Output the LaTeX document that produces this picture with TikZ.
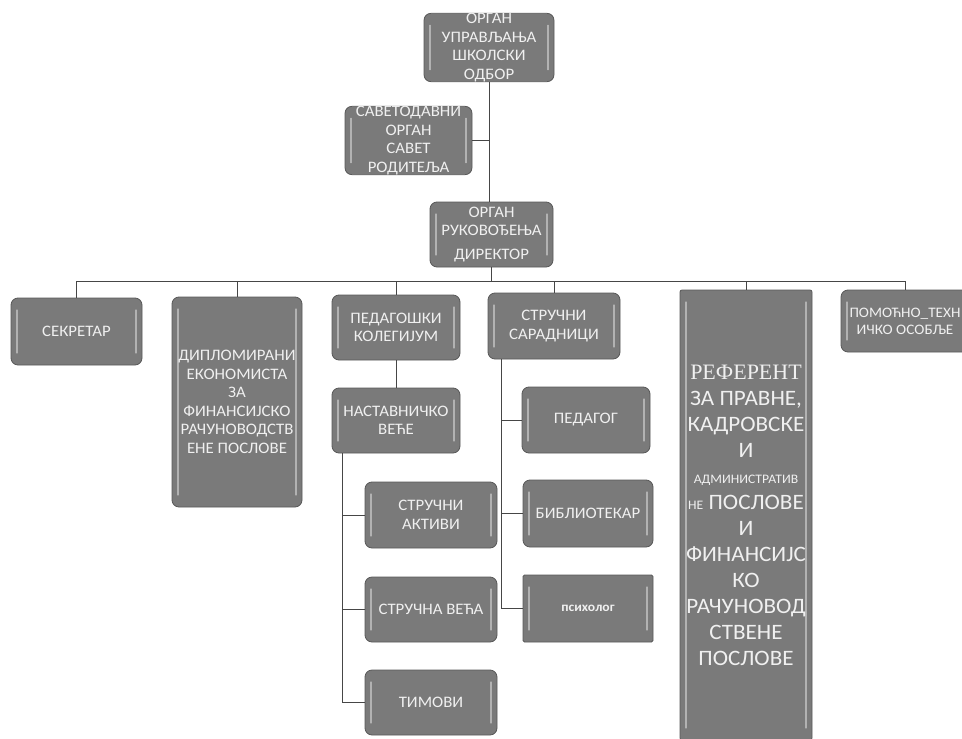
\documentclass[tikz,border=0pt]{standalone}
\usepackage{fontspec}
\setmainfont{Carlito}
\newfontfamily\boxfont[FakeStretch=1.05]{Carlito}
\newfontfamily\serifbox{Liberation Serif}
\definecolor{boxgray}{RGB}{122,122,122}
\definecolor{boxedge}{RGB}{88,88,88}
\definecolor{hilite}{RGB}{178,178,178}
\definecolor{linegray}{RGB}{70,70,70}
\definecolor{boxtext}{RGB}{240,240,240}
\begin{document}
\begin{tikzpicture}[x=1pt,y=-1pt,
  box/.style={rounded corners=7pt, fill=boxgray, draw=boxedge, line width=0.8pt,
    text=boxtext, align=center, inner sep=0pt,
    font=\boxfont\fontsize{16}{18.5}\selectfont,
    path picture={
      \draw[hilite, line width=1.2pt, line cap=round]
        ([xshift=6pt,yshift=-12pt]path picture bounding box.north west) --
        ([xshift=6pt,yshift=12pt]path picture bounding box.south west);
      \draw[hilite, line width=1.2pt, line cap=round]
        ([xshift=-6pt,yshift=-12pt]path picture bounding box.north east) --
        ([xshift=-6pt,yshift=12pt]path picture bounding box.south east);
    }},
  conn/.style={draw=linegray, line width=0.7pt}]
\useasboundingbox (0,0) rectangle (962,739);
\clip (0,0) rectangle (962,739);
\fill[white] (0,0) rectangle (962,739);

% top column
\node[box, minimum width=130pt, minimum height=65pt] (odbor) at (489,47.5)
  {ОРГАН\\УПРАВЉАЊА\\ШКОЛСКИ\\ОДБОР};
\node[box, minimum width=127pt, minimum height=65pt] (savet) at (408.5,140.5)
  {САВЕТОДАВНИ\\ОРГАН\\САВЕТ\\РОДИТЕЉА};
\node[box, minimum width=123pt, minimum height=65pt] (direktor) at (491.5,234.5)
  {ОРГАН\\РУКОВОЂЕЊА\\[5pt]ДИРЕКТОР};

% second row
\node[box, minimum width=131pt, minimum height=67pt] (sekretar) at (76.5,331.5)
  {СЕКРЕТАР};
\node[box, minimum width=130pt, minimum height=210pt] (diplom) at (237,402)
  {ДИПЛОМИРАНИ\\ЕКОНОМИСТА\\ЗА\\ФИНАНСИЈСКО\\РАЧУНОВОДСТВ\\ЕНЕ ПОСЛОВЕ};
\node[box, minimum width=128pt, minimum height=65pt] (kolegij) at (396,327.5)
  {ПЕДАГОШКИ\\КОЛЕГИЈУМ};
\node[box, minimum width=132pt, minimum height=66pt] (saradn) at (554,326)
  {СТРУЧНИ\\САРАДНИЦИ};
\node[box, rounded corners=2pt, minimum width=132pt, minimum height=450pt,
  font=\boxfont\fontsize{22}{26}\selectfont] (referent) at (746,515)
  {{\serifbox РЕФЕРЕНТ}\\ЗА ПРАВНЕ,\\КАДРОВСКЕ\\И\\{\fontsize{13}{14}\selectfont АДМИНИСТРАТИВ}\\{\fontsize{13}{14}\selectfont НЕ} ПОСЛОВЕ\\И\\ФИНАНСИЈС\\КО\\РАЧУНОВОД\\СТВЕНЕ\\ПОСЛОВЕ};
\node[box, minimum width=128pt, minimum height=62pt,
  font=\boxfont\fontsize{14.5}{17}\selectfont] (pomoc) at (905,321)
  {ПОМОЋНО\_ТЕХН\\ИЧКО ОСОБЉЕ};

% left branch
\node[box, minimum width=128pt, minimum height=65pt] (nastav) at (396,420.5)
  {НАСТАВНИЧКО\\ВЕЋЕ};
\node[box, minimum width=132pt, minimum height=66pt] (aktivi) at (431,515)
  {СТРУЧНИ\\АКТИВИ};
\node[box, minimum width=132pt, minimum height=65pt] (veca) at (431,609.5)
  {СТРУЧНА ВЕЋА};
\node[box, minimum width=132pt, minimum height=65pt] (timovi) at (431,702.5)
  {ТИМОВИ};

% right branch
\node[box, minimum width=128pt, minimum height=66pt] (pedagog) at (586,420)
  {ПЕДАГОГ};
\node[box, minimum width=130pt, minimum height=67pt] (biblio) at (588,513.5)
  {БИБЛИОТЕКАР};
\node[box, rounded corners=1.5pt, minimum width=130pt, minimum height=67pt,
  font=\boxfont\bfseries\fontsize{13}{15}\selectfont] (psiholog) at (588,608.5)
  {психолог};

% connectors
\coordinate (bus) at (0,281);
\draw[conn] (odbor.south) -- (odbor.south |- direktor.north);
\draw[conn] (savet.east) -- (odbor.south |- savet.east);
\draw[conn] (direktor.south) -- (direktor.south |- bus);
\draw[conn] (sekretar.north |- bus) -- (pomoc.north |- bus);
\foreach \n in {sekretar,diplom,kolegij,saradn,referent,pomoc}
  \draw[conn] (\n.north) -- (\n.north |- bus);
\draw[conn] (kolegij.south) -- (nastav.north);
\coordinate (lspine) at ([xshift=11pt]nastav.south west);
\draw[conn] (lspine) |- (timovi.west);
\draw[conn] (lspine |- aktivi.west) -- (aktivi.west);
\draw[conn] (lspine |- veca.west) -- (veca.west);
\coordinate (rspine) at ([xshift=14pt]saradn.south west);
\draw[conn] (rspine) |- (psiholog.west);
\draw[conn] (rspine |- pedagog.west) -- (pedagog.west);
\draw[conn] (rspine |- biblio.west) -- (biblio.west);
\end{tikzpicture}
\end{document}
